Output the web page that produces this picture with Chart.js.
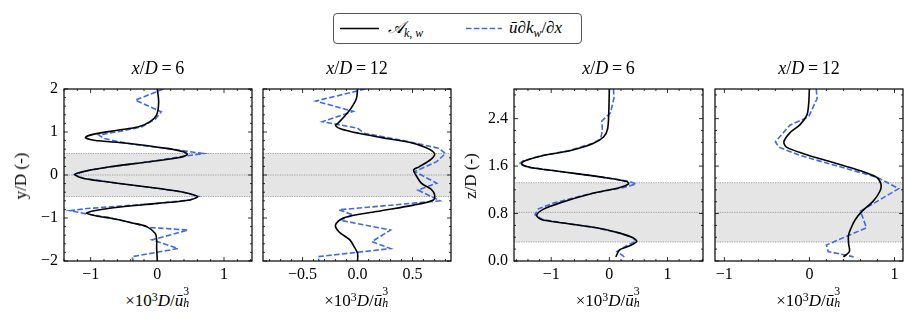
<!DOCTYPE html>
<html>
<head>
<meta charset="utf-8">
<script src="https://cdn.jsdelivr.net/npm/chart.js@4.4.1/dist/chart.umd.min.js"></script>
<style>
body { margin: 0; background: #fff; }
#fig { position: relative; width: 916px; height: 326px; font-family: "Liberation Serif", "Times New Roman", "Nimbus Roman", "DejaVu Serif", serif; color: #000; overflow: hidden; }
.panel { position: absolute; }
.ttl { position: absolute; width: 140px; text-align: center; font-size: 18px; top: 58px; white-space: nowrap; }
.xl { position: absolute; width: 160px; text-align: center; font-size: 17px; top: 289px; white-space: nowrap; }
.yl { position: absolute; font-size: 17px; white-space: nowrap; transform: translate(-50%, -50%) rotate(-90deg); }
.ss { position: relative; display: inline-block; width: 0.45em; height: 1em; }
.ss .s1 { position: absolute; left: 0; top: -0.45em; font-size: 0.7em; }
.ss .s2 { position: absolute; left: 0; top: 0.55em; font-size: 0.7em; font-style: italic; }
.xl sup { font-size: 0.7em; vertical-align: 0.45em; line-height: 0; }
#legend { position: absolute; left: 333px; top: 13px; width: 247px; height: 29px; border: 1px solid #555; border-radius: 4px; font-size: 17px; }
#legend svg { position: absolute; top: 0; left: 0; }
#legend .t { position: absolute; top: 4px; white-space: nowrap; }
</style>
</head>
<body>
<div id="fig">
  <div id="legend">
    <svg width="247" height="29">
      <line x1="6" y1="14.5" x2="45" y2="14.5" stroke="#000" stroke-width="1.6"/>
      <line x1="132" y1="14.5" x2="168" y2="14.5" stroke="#4169e1" stroke-width="1.6" stroke-dasharray="5.5 2.4"/>
    </svg>
    <span class="t" style="left:54px"><i>𝒜</i><sub style="font-size:0.7em"><i>k, w</i></sub></span>
    <span class="t" style="left:175px"><i>ū</i>∂<i>k</i><sub style="font-size:0.7em"><i>w</i></sub>/∂<i>x</i></span>
  </div>
</div>
<script>
// y/D profiles, panel 1 (x/D = 6)
const p1PosA = [2.0, 1.7, 1.4, 1.24, 1.12, 1.04, 0.95, 0.87, 0.81, 0.74, 0.62, 0.54, 0.48, 0.4, 0.29, 0.19, 0.09, 0.01, -0.08, -0.19, -0.31, -0.4, -0.5, -0.58, -0.66, -0.76, -0.83, -0.89, -0.97, -1.0, -1.12, -1.2, -1.36, -1.51, -1.7, -2.0];
const p1ValA = [0, 0.02, -0.01, -0.11, -0.28, -0.6, -0.95, -1.08, -0.95, -0.46, 0.14, 0.39, 0.45, 0.31, -0.21, -0.71, -1.08, -1.24, -1.1, -0.6, 0, 0.39, 0.6, 0.49, 0, -0.66, -0.95, -1.06, -0.85, -0.71, -0.36, -0.16, -0.03, -0.01, -0.01, 0];
const p1PosU = [2.0, 1.74, 1.47, 1.3, 1.12, 1.02, 0.93, 0.85, 0.78, 0.7, 0.62, 0.55, 0.5, 0.42, 0.29, 0.19, 0.09, 0.01, -0.08, -0.19, -0.31, -0.4, -0.5, -0.58, -0.66, -0.78, -0.83, -0.91, -1.0, -1.12, -1.22, -1.28, -1.51, -1.71, -1.9, -2.0];
const p1ValU = [0.09, -0.33, 0.06, -0.03, -0.23, -0.55, -0.88, -0.8, -0.6, -0.3, 0.14, 0.45, 0.69, 0.33, -0.21, -0.71, -1.08, -1.24, -1.1, -0.6, 0, 0.39, 0.62, 0.49, 0, -1.05, -1.31, -1.05, -0.71, -0.36, -0.11, 0.46, -0.08, 0.31, -0.38, -0.36];

// y/D profiles, panel 2 (x/D = 12)
const p2PosA = [2.0, 1.78, 1.55, 1.36, 1.2, 1.15, 1.07, 0.97, 0.85, 0.76, 0.64, 0.5, 0.37, 0.19, 0.12, 0.0, -0.19, -0.27, -0.33, -0.45, -0.58, -0.7, -0.85, -1.0, -1.16, -1.32, -1.51, -1.67, -1.82, -2.0];
const p2ValA = [0, -0.01, -0.06, -0.12, -0.18, -0.2, -0.15, 0.01, 0.26, 0.47, 0.62, 0.7, 0.67, 0.56, 0.51, 0.53, 0.58, 0.63, 0.67, 0.7, 0.69, 0.51, 0.17, -0.13, -0.2, -0.17, -0.07, -0.03, 0, 0];
const p2PosU = [2.0, 1.72, 1.48, 1.24, 1.09, 0.97, 0.79, 0.62, 0.5, 0.31, 0.08, -0.19, -0.35, -0.6, -0.81, -0.93, -1.05, -1.28, -1.55, -1.71, -1.9, -2.0];
const p2ValU = [0.07, -0.38, -0.04, -0.32, 0.0, 0.06, 0.44, 0.74, 0.8, 0.72, 0.52, 0.72, 0.55, 0.75, -0.17, -0.04, -0.16, 0.3, 0.13, 0.3, -0.36, -0.35];

// z/D profiles, panel 3 (x/D = 6)
const p3PosA = [2.9, 2.52, 2.23, 2.09, 1.98, 1.86, 1.78, 1.69, 1.64, 1.58, 1.51, 1.41, 1.34, 1.3, 1.24, 1.13, 0.98, 0.87, 0.77, 0.7, 0.64, 0.56, 0.47, 0.39, 0.33, 0.26, 0.19, 0.07];
const p3ValA = [0, -0.01, -0.03, -0.1, -0.28, -0.68, -1.14, -1.45, -1.51, -1.37, -0.85, -0.1, 0.3, 0.33, 0.18, -0.33, -0.85, -1.14, -1.25, -1.17, -0.79, -0.22, 0.18, 0.41, 0.47, 0.36, 0.18, 0.11];
const p3PosU = [2.9, 2.75, 2.5, 2.36, 2.2, 2.06, 1.98, 1.86, 1.78, 1.69, 1.64, 1.58, 1.51, 1.41, 1.34, 1.3, 1.24, 1.13, 0.98, 0.88, 0.78, 0.7, 0.64, 0.56, 0.47, 0.39, 0.33, 0.26, 0.16, 0.06];
const p3ValU = [0.07, 0.08, 0.02, -0.13, -0.12, -0.15, -0.3, -0.7, -1.15, -1.48, -1.55, -1.4, -0.85, -0.1, 0.35, 0.46, 0.25, -0.35, -0.95, -1.22, -1.28, -1.15, -0.79, -0.22, 0.18, 0.41, 0.45, 0.3, 0.13, 0.27];

// z/D profiles, panel 4 (x/D = 12)
const p4PosA = [2.9, 2.63, 2.46, 2.3, 2.16, 2.01, 1.92, 1.81, 1.66, 1.52, 1.41, 1.3, 1.18, 1.01, 0.84, 0.7, 0.59, 0.44, 0.3, 0.16, 0.07];
const p4ValA = [0, -0.01, -0.03, -0.11, -0.23, -0.3, -0.27, -0.07, 0.28, 0.6, 0.79, 0.84, 0.83, 0.75, 0.62, 0.54, 0.5, 0.46, 0.46, 0.47, 0.4];
const p4PosU = [2.9, 2.74, 2.43, 2.29, 2.01, 1.92, 1.78, 1.6, 1.41, 1.22, 0.84, 0.56, 0.27, 0.16, 0.07];
const p4ValU = [0.08, 0.09, -0.01, -0.23, -0.4, -0.36, -0.11, 0.33, 0.8, 1.05, 0.6, 0.67, 0.2, 0.22, 0.52];

// rotor band and reference lines
const yBand = [-0.5, 0.5];
const yLines = [-0.5, 0, 0.5];
const zBand = [0.32, 1.32];
const zLines = [0.32, 0.82, 1.32];

const titles = ["6", "12", "6", "12"];

Chart.defaults.font.family = '"Liberation Serif", "Times New Roman", "Nimbus Roman", "DejaVu Serif", serif';
Chart.defaults.font.size = 16;
Chart.defaults.color = "#000";

const PLOT_TOP = 89, PLOT_BOTTOM = 261;

function pts(pos, val) {
    return pos.map((p, i) => ({ x: val[i], y: p }));
}

function fmt(v, dec) {
    let s = Math.abs(v) < 1e-9 ? (0).toFixed(dec) : v.toFixed(dec);
    return s.replace("-", "\u2212");
}

const deco = {
    id: "deco",
    beforeDatasetsDraw(chart, args, o) {
        const { ctx, chartArea: a, scales: { x, y } } = chart;
        ctx.save();
        const b0 = y.getPixelForValue(o.band[0]), b1 = y.getPixelForValue(o.band[1]);
        ctx.fillStyle = "#e5e5e5";
        ctx.fillRect(a.left, b1, a.right - a.left, b0 - b1);
        ctx.strokeStyle = "#8a8a8a";
        ctx.lineWidth = 0.8;
        ctx.setLineDash([1.2, 1.2]);
        o.lines.forEach(v => {
            const p = y.getPixelForValue(v);
            ctx.beginPath(); ctx.moveTo(a.left, p); ctx.lineTo(a.right, p); ctx.stroke();
        });
        ctx.restore();
    },
    afterDatasetsDraw(chart, args, o) {
        const { ctx, chartArea: a, scales: { x, y } } = chart;
        ctx.save();
        ctx.strokeStyle = "#000";
        ctx.lineWidth = 0.8;
        const each = (scale, major, minor, fn) => {
            for (let k = Math.ceil(scale.min / minor - 1e-6); k * minor <= scale.max + 1e-9; k++) {
                const v = k * minor;
                const r = v / major;
                fn(scale.getPixelForValue(v), Math.abs(r - Math.round(r)) < 1e-6 ? 4 : 2);
            }
        };
        each(x, o.xMajor, o.xMinor, (p, len) => {
            ctx.beginPath();
            ctx.moveTo(p, a.bottom); ctx.lineTo(p, a.bottom - len);
            ctx.moveTo(p, a.top); ctx.lineTo(p, a.top + len);
            ctx.stroke();
        });
        each(y, o.yMajor, o.yMinor, (p, len) => {
            ctx.beginPath();
            ctx.moveTo(a.left, p); ctx.lineTo(a.left + len, p);
            ctx.moveTo(a.right, p); ctx.lineTo(a.right - len, p);
            ctx.stroke();
        });
        ctx.lineWidth = 1.2;
        ctx.strokeRect(a.left, a.top, a.right - a.left, a.bottom - a.top);
        ctx.restore();
    }
};

const panels = [
    { left: 64, right: 252, a: pts(p1PosA, p1ValA), u: pts(p1PosU, p1ValU), xr: [-1.4, 1.42], xMajor: 1, xMinor: 0.2, xDec: 0,
      yr: [-2, 2], yMajor: 1, yMinor: 0.2, yDec: 0, yLabels: true, band: yBand, lines: yLines },
    { left: 263, right: 451, a: pts(p2PosA, p2ValA), u: pts(p2PosU, p2ValU), xr: [-0.86, 0.85], xMajor: 0.5, xMinor: 0.1, xDec: 1,
      yr: [-2, 2], yMajor: 1, yMinor: 0.2, yDec: 0, yLabels: false, band: yBand, lines: yLines },
    { left: 514, right: 703, a: pts(p3PosA, p3ValA), u: pts(p3PosU, p3ValU), xr: [-1.64, 1.61], xMajor: 1, xMinor: 0.2, xDec: 0,
      yr: [0, 2.9], yMajor: 0.8, yMinor: 0.2, yDec: 1, yLabels: true, band: zBand, lines: zLines },
    { left: 715, right: 903, a: pts(p4PosA, p4ValA), u: pts(p4PosU, p4ValU), xr: [-1.11, 1.1], xMajor: 1, xMinor: 0.2, xDec: 0,
      yr: [0, 2.9], yMajor: 0.8, yMinor: 0.2, yDec: 1, yLabels: false, band: zBand, lines: zLines }
];

const fig = document.getElementById("fig");

panels.forEach((p, i) => {
    const padL = p.yLabels ? 45 : 6, padR = 8, padT = 18, padB = 28;
    const w = p.right - p.left + padL + padR;
    const h = PLOT_BOTTOM - PLOT_TOP + padT + padB;
    const box = document.createElement("div");
    box.className = "panel";
    box.style.left = (p.left - padL) + "px";
    box.style.top = (PLOT_TOP - padT) + "px";
    const cv = document.createElement("canvas");
    cv.width = w; cv.height = h;
    cv.style.width = w + "px"; cv.style.height = h + "px";
    box.appendChild(cv);
    fig.appendChild(box);

    new Chart(cv, {
        type: "scatter",
        data: {
            datasets: [
                { label: "A", data: p.a, showLine: true, borderColor: "#000", borderWidth: 1.6, pointRadius: 0, tension: 0.3, order: 1 },
                { label: "U", data: p.u, showLine: true, borderColor: "#4169e1", borderWidth: 1.6, borderDash: [5.5, 2.4], pointRadius: 0, tension: 0, order: 2 }
            ]
        },
        options: {
            responsive: false,
            animation: false,
            events: [],
            layout: { padding: { left: 0, right: padR, top: padT, bottom: 0 } },
            plugins: {
                legend: { display: false },
                tooltip: { enabled: false },
                deco: { band: p.band, lines: p.lines, xMajor: p.xMajor, xMinor: p.xMinor, yMajor: p.yMajor, yMinor: p.yMinor }
            },
            scales: {
                x: {
                    min: p.xr[0], max: p.xr[1],
                    grid: { display: false, drawTicks: false },
                    border: { display: false },
                    ticks: { stepSize: p.xMajor, includeBounds: false, padding: 4, maxRotation: 0,
                             callback: v => fmt(v, p.xDec) },
                    afterFit: s => { s.height = padB; }
                },
                y: {
                    min: p.yr[0], max: p.yr[1],
                    grid: { display: false, drawTicks: false },
                    border: { display: false },
                    ticks: { display: p.yLabels, stepSize: p.yMajor, includeBounds: false, padding: 6,
                             callback: v => fmt(v, p.yDec) },
                    afterFit: s => { s.width = padL; }
                }
            }
        },
        plugins: [deco]
    });

    const cx = (p.left + p.right) / 2;
    const t = document.createElement("div");
    t.className = "ttl";
    t.style.left = (cx - 70) + "px";
    t.innerHTML = "<i>x</i>/<i>D</i>\u2009=\u2009" + titles[i];
    fig.appendChild(t);

    const xl = document.createElement("div");
    xl.className = "xl";
    xl.style.left = (cx - 80) + "px";
    xl.innerHTML = "\u00d710<sup>3</sup><i>D</i>/<i>ū</i><span class=\"ss\"><span class=\"s1\">3</span><span class=\"s2\">h</span></span>";
    fig.appendChild(xl);
});

[["y/D (-)", 21], ["z/D (-)", 471]].forEach(([txt, x]) => {
    const d = document.createElement("div");
    d.className = "yl";
    d.style.left = x + "px";
    d.style.top = "176px";
    d.textContent = txt;
    fig.appendChild(d);
});
</script>
</body>
</html>
